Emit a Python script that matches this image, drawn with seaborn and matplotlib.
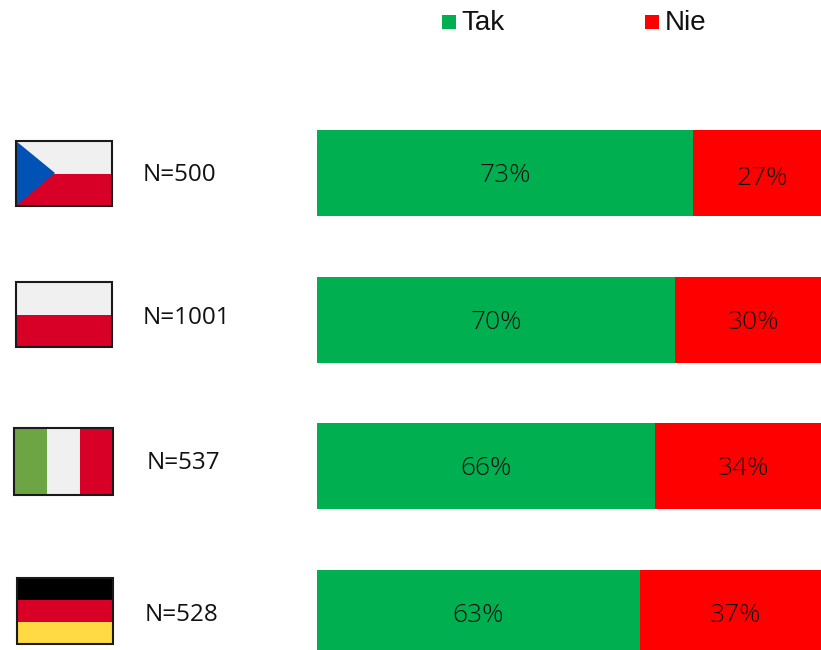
import matplotlib
matplotlib.use("Agg")
import matplotlib.pyplot as plt
from matplotlib.patches import Rectangle, Polygon
import pandas as pd
import seaborn as sns

countries = ["Czechy", "Polska", "Włochy", "Niemcy"]
sample_labels = ["N=500", "N=1001", "N=537", "N=528"]
tak = [73.0, 69.6, 65.6, 62.7]
nie = [27.0, 30.4, 34.4, 37.3]
series_names = ["Tak", "Nie"]
GREEN, RED = "#00B050", "#FF0000"

W, H = 821, 650
sns.set_theme(style="white")
plt.rcParams["font.family"] = ["Open Sans", "DejaVu Sans"]
fig = plt.figure(figsize=(W / 100, H / 100), dpi=100, facecolor="white")

# bar axes
ax = fig.add_axes([317 / W, 0, (W - 317) / W, 1])
df = pd.DataFrame({"country": countries, "tak": tak, "nie": nie})
df["total"] = df["tak"] + df["nie"]
sns.barplot(data=df, y="country", x="total", color=RED, width=0.587, saturation=1, linewidth=0, ax=ax)
sns.barplot(data=df, y="country", x="tak", color=GREEN, width=0.587, saturation=1, linewidth=0, ax=ax)
ax.set_xlim(0, (W - 317) / 5.15)
ax.set_ylim((H - 173) / 146.67, -173 / 146.67)
ax.axis("off")

nudges = [3, 0, 0, 0]
for i, (t, n) in enumerate(zip(tak, nie)):
    ax.annotate(f"{round(t)}%", (t / 2, i), xytext=(0, -1.8), textcoords="offset points",
                ha="center", va="center", fontsize=19, fontweight=300, color="#111111")
    ax.annotate(f"{round(n)}%", (t + n / 2, i), xytext=(-0.3, -1.8 - nudges[i] * 0.72), textcoords="offset points",
                ha="center", va="center", fontsize=19, fontweight=300, color="#111111")

# overlay in pixel coordinates for flags, sample sizes and legend
ov = fig.add_axes([0, 0, 1, 1], zorder=3)
ov.set_xlim(0, W)
ov.set_ylim(H, 0)
ov.axis("off")
ov.patch.set_alpha(0)

F_RED, F_WHITE, F_BLUE, F_GREEN, F_YEL = "#D80027", "#F0F0F0", "#0052B4", "#6DA544", "#FFDA44"


def frame(x0, y0, x1, y1):
    ov.add_patch(Rectangle((x0, y0), x1 - x0, y1 - y0, fill=False, ec="#1a1a1a", lw=1.5))


def hbands(x0, y0, x1, y1, cols):
    h = (y1 - y0) / len(cols)
    for k, c in enumerate(cols):
        ov.add_patch(Rectangle((x0, y0 + k * h), x1 - x0, h, fc=c, ec="none"))


def vbands(x0, y0, x1, y1, cols):
    w = (x1 - x0) / len(cols)
    for k, c in enumerate(cols):
        ov.add_patch(Rectangle((x0 + k * w, y0), w, y1 - y0, fc=c, ec="none"))


# Czech
hbands(16, 141, 112, 206, [F_WHITE, F_RED])
ov.add_patch(Polygon([(16, 141), (55, 173), (16, 206)], fc=F_BLUE, ec="none"))
frame(16, 141, 112, 206)
# Poland
hbands(16, 282, 112, 347, [F_WHITE, F_RED])
frame(16, 282, 112, 347)
# Italy
vbands(14, 428, 113, 495, [F_GREEN, F_WHITE, F_RED])
frame(14, 428, 113, 495)
# Germany
hbands(17, 578, 113, 644, ["#000000", F_RED, F_YEL])
frame(17, 578, 113, 644)

label_pos = [(143, 175), (143, 318), (147, 463), (145, 615)]
for s, (x, y) in zip(sample_labels, label_pos):
    ov.text(x, y, s, ha="left", va="center", fontsize=17.5, color="#111111")

# legend
for name, col, mx in zip(series_names, [GREEN, RED], [442, 645]):
    ov.add_patch(Rectangle((mx, 15), 14, 14, fc=col, ec="none"))
    ov.text(mx + 19.5, 22.5, name, ha="left", va="center", fontsize=20,
            family="Liberation Sans", color="#111111")

fig.savefig("out.png", dpi=100, facecolor="white")
